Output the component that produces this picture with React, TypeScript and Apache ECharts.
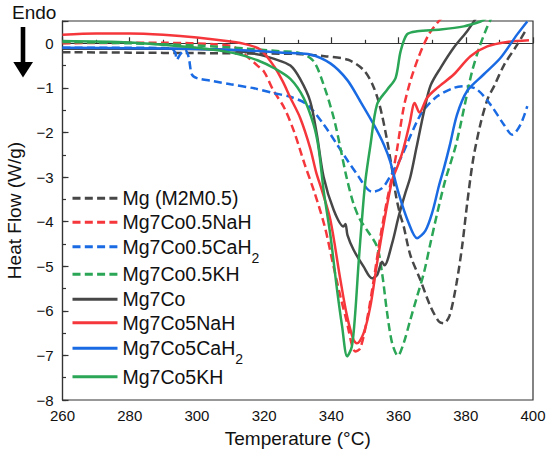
import React, { useEffect, useRef } from "react";
import * as echarts from "echarts";

const xTicks = { min: 260, max: 400, interval: 20 };
const yTicks = { min: -8, max: 0.5, interval: 1 };

const seriesNames = [
  "Mg (M2M0.5)",
  "Mg7Co0.5NaH",
  "Mg7Co0.5CaH2",
  "Mg7Co0.5KH",
  "Mg7Co",
  "Mg7Co5NaH",
  "Mg7Co5CaH2",
  "Mg7Co5KH",
];

const mgM2M05 = [
  [260, -0.2], [280, -0.21], [300, -0.22], [320, -0.23], [330, -0.24], [338, -0.29], [345, -0.37],
  [349.6, -0.6], [352.4, -0.95], [354.4, -1.4], [356.4, -2.1], [358, -2.8], [359.3, -3.45], [360.5, -3.85],
  [361.5, -4.1], [363.5, -4.75], [366.5, -5.31], [369.5, -5.9], [372, -6.24], [373.4, -6.28], [375.2, -6.1],
  [377.2, -5.4], [378.9, -4.56], [380.4, -3.6], [382.2, -2.6], [384.4, -1.8], [386.5, -1.25], [388.5, -0.95],
  [391.3, -0.5], [395.3, -0.03], [398, 0.31],
];

const mg7co05NaH = [
  [260, 0.0], [280, 0.01], [291, 0.01], [305, -0.02], [311, -0.08], [315, -0.3], [318, -0.5], [320, -0.64],
  [322.7, -1.05], [326, -1.45], [329, -2.0], [332, -2.7], [335, -3.35], [338, -4.1], [340.5, -4.95],
  [342.7, -5.68], [344.7, -6.28], [346.1, -6.76], [347.1, -6.91], [348.6, -6.84], [350.6, -6.2],
  [352.6, -5.31], [354.6, -4.33], [356.6, -3.51], [358.3, -2.9], [359.5, -2.4], [361.5, -1.45],
  [363.5, -0.85], [366, -0.3], [369, 0.2], [372, 0.5], [374, 0.65],
];

const mg7co05CaH2 = [
  [260, -0.1], [280, -0.1], [292, -0.11], [293.5, -0.2], [294, -0.37], [295, -0.25], [296.5, -0.15],
  [297.5, -0.3], [298.5, -0.7], [300, -0.78], [305, -0.85], [310, -0.92], [317, -1.01], [323, -1.12],
  [327.8, -1.2], [332.7, -1.37], [337.7, -1.82], [341.7, -2.27], [345, -2.65], [348.1, -2.99],
  [350.5, -3.25], [352.1, -3.33], [355.1, -3.25], [358.1, -2.91], [360.5, -2.6], [363, -2.17],
  [365.5, -1.75], [367.5, -1.49], [371.5, -1.19], [376.4, -1.0], [379.9, -0.96], [383.4, -1.04],
  [387.3, -1.37], [391.3, -1.82], [393.8, -2.05], [396.3, -1.82], [398.3, -1.41],
];

const mg7co05KH = [
  [260, 0.03], [280, 0.0], [300, -0.05], [315, -0.12], [325, -0.18], [330.7, -0.22], [334.7, -0.4],
  [337.7, -0.93], [340.7, -1.67], [342.7, -2.35], [344.5, -3.0], [346.6, -3.6], [348.5, -3.95],
  [350.6, -4.19], [353.6, -4.56], [355.1, -5.16], [356.6, -6.05], [358.1, -6.73], [359.8, -7.01],
  [361.5, -6.73], [363.5, -6.2], [365.5, -5.68], [367.5, -5.16], [369.5, -4.48], [371.5, -3.81],
  [373.9, -3.07], [377, -2.3], [379.5, -1.45], [381.8, -0.65], [384, -0.1], [386, 0.3], [387.5, 0.55],
];

const mg7co = [
  [260, -0.12], [280, -0.12], [300, -0.13], [310, -0.15], [318.8, -0.26], [323, -0.35], [327.8, -0.5],
  [330.7, -0.8], [333.7, -1.3], [335.7, -2.05], [337.7, -3.0], [340.7, -3.74], [343.6, -4.11],
  [344.2, -4.05], [344.8, -4.3], [346.6, -4.63], [349.6, -5.01], [352.1, -5.27], [353.6, -5.2],
  [355.1, -4.9], [355.8, -4.98], [358.1, -4.48], [360, -3.89], [362, -3.36], [363.5, -3.0], [365.3, -2.35],
  [367.5, -1.55], [369.5, -0.95], [372.5, -0.55], [376.4, -0.1], [380.4, 0.27], [382.4, 0.49], [384, 0.7],
];

const mg7co5NaH = [
  [260, 0.19], [270, 0.22], [280, 0.22], [290, 0.19], [300, 0.13], [310, 0.04], [315, -0.03],
  [319, -0.15], [323, -0.52], [325.5, -0.85], [327.8, -1.22], [330.7, -1.67], [333.7, -2.35],
  [335.5, -2.9], [337.2, -3.3], [339.7, -3.96], [342.7, -5.31], [344.7, -6.13], [346.6, -6.65],
  [347.6, -6.73], [349.6, -6.5], [351.6, -5.9], [353.6, -4.93], [355.6, -4.04], [358.1, -3.07],
  [360, -2.7], [361.5, -2.35], [363.3, -1.8], [364.8, -1.34], [366.2, -1.55], [368.5, -1.22],
  [371.5, -1.0], [376.4, -0.7], [381.4, -0.29], [386.4, -0.07], [392.3, 0.03], [398.8, 0.07],
];

const mg7co5CaH2 = [
  [260, -0.1], [280, -0.11], [300, -0.13], [315, -0.16], [323.4, -0.2], [328, -0.22], [333.7, -0.25],
  [339.7, -0.45], [344.7, -0.82], [348.6, -1.3], [352.6, -1.82], [355.6, -2.27], [357.5, -2.65],
  [360, -3.36], [363, -4.03], [365.5, -4.37], [368, -4.2], [370, -3.8], [372, -3.2], [373.5, -2.8],
  [375.2, -2.3], [377.4, -1.6], [380.4, -1.07], [385.3, -0.7], [390.3, -0.33], [395.3, 0.2], [398.3, 0.49],
];

const mg7co5KH = [
  [260, 0.05], [280, 0.02], [291, -0.04], [300, -0.1], [311, -0.22], [318, -0.38], [323, -0.56],
  [327.8, -0.8], [331.7, -1.22], [334.7, -1.82], [336.2, -2.35], [337.7, -3.3], [339.7, -4.3],
  [341.7, -5.53], [343.2, -6.35], [344.7, -7.02], [346.1, -6.8], [347.1, -6.05], [348.1, -4.93],
  [349.1, -3.96], [350.1, -3.1], [351.6, -2.3], [353.6, -1.37], [356.6, -1.04], [359.1, -0.78],
  [360.6, -0.18], [362.5, 0.2], [365.5, 0.27], [372.5, 0.31], [379.4, 0.38], [384.4, 0.49], [386, 0.55],
];

const seriesData = [mgM2M05, mg7co05NaH, mg7co05CaH2, mg7co05KH, mg7co, mg7co5NaH, mg7co5CaH2, mg7co5KH];
const seriesColors = ["#474747", "#f5373c", "#1a6be3", "#2aa656", "#474747", "#f5373c", "#1a6be3", "#2aa656"];
const seriesDashed = [true, true, true, true, false, false, false, false];
const legendCenters = [198.3, 222.3, 246.7, 274.3, 299.3, 322.7, 348.3, 376.7];

const FONT = "'Liberation Sans', Arial, sans-serif";

function labelText(name: string) {
  if (name.endsWith("H2")) {
    return "{n|" + name.slice(0, -1) + "}{s|2}";
  }
  return "{n|" + name + "}";
}

export default function App() {
  const ref = useRef<HTMLDivElement>(null);
  useEffect(() => {
    if (!ref.current) return;
    const chart = echarts.init(ref.current, undefined, { renderer: "svg" });
    const dash = [8, 4.3];
    const series = seriesNames.map((name, i) => ({
      name,
      type: "line",
      data: seriesData[i],
      showSymbol: false,
      symbol: "none",
      smooth: 0.3,
      clip: true,
      lineStyle: {
        color: seriesColors[i],
        width: 2.5,
        type: seriesDashed[i] ? dash : "solid",
      },
      itemStyle: { color: seriesColors[i] },
    }));
    const legends = seriesNames.map((name, i) => {
      return {
        data: [name],
        orient: "vertical",
        left: 71,
        top: legendCenters[i] - 10,
        padding: 0,
        itemWidth: 45,
        itemHeight: 14,
        itemGap: 0,
        selectedMode: false,
        lineStyle: { width: 3 },
        itemStyle: { opacity: 0, borderWidth: 0 },
        formatter: labelText,
        textStyle: {
          color: "#111",
          padding: [0, 0, 0, 0],
          rich: {
            n: { fontSize: 19.5, fontFamily: FONT, color: "#111", lineHeight: 20, verticalAlign: "middle" },
            s: { fontSize: 14, fontFamily: FONT, color: "#111", lineHeight: 14, padding: [14, 0, 0, 0], verticalAlign: "top" },
          },
        },
      };
    });
    const option = {
      animation: false,
      textStyle: { fontFamily: FONT },
      grid: {
        left: 62.5,
        right: 17,
        top: 21,
        bottom: 57,
        show: true,
        containLabel: false,
        outerBoundsMode: "none",
        borderColor: "#333",
        borderWidth: 1.2,
        backgroundColor: "transparent",
      },
      legend: legends,
      graphic: [
        {
          type: "text",
          left: 12,
          top: 3,
          style: { text: "Endo", fontSize: 19, fontFamily: FONT, fill: "#111" },
        },
        {
          type: "line",
          shape: { x1: 23, y1: 27, x2: 23, y2: 66 },
          style: { stroke: "#000", lineWidth: 4.6 },
        },
        {
          type: "polygon",
          shape: { points: [[13.3, 62], [33, 62], [23, 77.5]] },
          style: { fill: "#000" },
        },
      ],
      xAxis: {
        type: "value",
        min: xTicks.min,
        max: xTicks.max,
        interval: xTicks.interval,
        name: "Temperature (\u00B0C)",
        nameLocation: "middle",
        nameGap: 29,
        nameTextStyle: { fontSize: 19, color: "#111", fontFamily: FONT },
        axisLine: { show: true, lineStyle: { color: "#333", width: 1.2 } },
        axisTick: { show: true, inside: true, length: 6, lineStyle: { color: "#333", width: 1.2 } },
        minorTick: { show: true, splitNumber: 2, length: 3.5, lineStyle: { color: "#333", width: 1.2 } },
        splitLine: { show: false },
        axisLabel: { fontSize: 15, color: "#111", margin: 8, fontFamily: FONT },
      },
      yAxis: [
        {
          type: "value",
          min: yTicks.min,
          max: yTicks.max,
          interval: yTicks.interval,
          position: "left",
          name: "Heat Flow (W/g)",
          nameLocation: "middle",
          nameGap: 39,
          nameTextStyle: { fontSize: 19, color: "#111", fontFamily: FONT },
          axisLine: { show: true, lineStyle: { color: "#333", width: 1.2 } },
          axisTick: { show: true, inside: true, length: 6, lineStyle: { color: "#333", width: 1.2 } },
          splitLine: { show: false },
          axisLabel: {
            fontSize: 15,
            color: "#111",
            margin: 9,
            fontFamily: FONT,
            formatter: (v: number) => (v > 0 ? "" : v < 0 ? "\u2212" + Math.abs(v) : "0"),
          },
        },
        {
          type: "value",
          min: yTicks.min,
          max: yTicks.max,
          interval: yTicks.interval / 2,
          position: "left",
          axisLine: { show: false },
          axisTick: { show: true, inside: true, length: 3.5, lineStyle: { color: "#333", width: 1.2 } },
          splitLine: { show: false },
          axisLabel: { show: false },
        },
      ],
      series,
    };
    chart.setOption(option as any);
    return () => chart.dispose();
  }, []);
  return (
    <div
      ref={ref}
      style={{ position: "fixed", left: 0, top: 0, width: 550, height: 457, background: "#fff" }}
    />
  );
}
